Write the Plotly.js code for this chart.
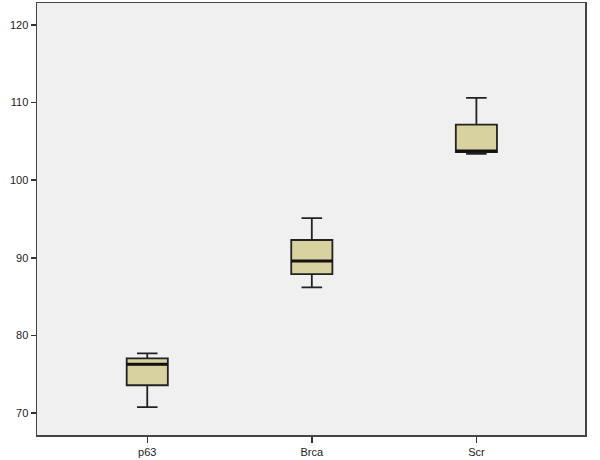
<!DOCTYPE html>
<html>
<head>
<meta charset="utf-8">
<script src="https://cdn.plot.ly/plotly-3.0.1.min.js"></script>
<style>
  html, body { margin: 0; padding: 0; background: #fff; }
  #chart { width: 600px; height: 460px; }
</style>
</head>
<body>
<div id="chart"></div>
<script>
// Groups and five-number summaries
const groups = ['p63', 'Brca', 'Scr'];
const lowerWhisker = [70.8, 86.2, 103.4];
const q1Values = [73.6, 87.9, 103.6];
const medianValues = [76.3, 89.6, 103.75];
const q3Values = [77.05, 92.3, 107.15];
const upperWhisker = [77.7, 95.1, 110.6];

const positions = groups.map((_, i) => i);
const boxWidth = 0.25;

const boxTrace = {
    type: 'box',
    x: positions,
    q1: q1Values,
    median: medianValues,
    q3: q3Values,
    lowerfence: lowerWhisker,
    upperfence: upperWhisker,
    width: boxWidth,
    whiskerwidth: 0.5,
    fillcolor: '#D8D2A1',
    line: { color: '#222', width: 1.8 },
    hoverinfo: 'skip',
    showlegend: false
};

// thick median bars, as SPSS draws them
const medX = [], medY = [];
positions.forEach((p, i) => {
    medX.push(p - boxWidth / 2, p + boxWidth / 2, null);
    medY.push(medianValues[i], medianValues[i], null);
});
const medianTrace = {
    type: 'scatter',
    mode: 'lines',
    x: medX,
    y: medY,
    line: { color: '#111', width: 3 },
    hoverinfo: 'skip',
    showlegend: false
};

const layout = {
    width: 600,
    height: 460,
    paper_bgcolor: '#ffffff',
    plot_bgcolor: '#F0F0F0',
    margin: { l: 37, r: 15, t: 3, b: 25 },
    font: { family: 'Liberation Sans, Arial, sans-serif', size: 11, color: '#222' },
    xaxis: {
        range: [-0.67, 2.66],
        tickvals: positions,
        ticktext: groups,
        ticks: 'outside',
        ticklen: 6,
        tickwidth: 1.5,
        tickcolor: '#333',
        showgrid: false,
        zeroline: false,
        showline: true,
        mirror: true,
        linecolor: '#444',
        linewidth: 1.5
    },
    yaxis: {
        range: [67.2, 122.8],
        tickvals: [70, 80, 90, 100, 110, 120],
        ticks: 'outside',
        ticklen: 5,
        tickwidth: 1.5,
        tickcolor: '#333',
        showgrid: false,
        zeroline: false,
        showline: true,
        mirror: true,
        linecolor: '#444',
        linewidth: 1.5
    }
};

Plotly.newPlot('chart', [boxTrace, medianTrace], layout, { displayModeBar: false, staticPlot: true });
</script>
</body>
</html>
